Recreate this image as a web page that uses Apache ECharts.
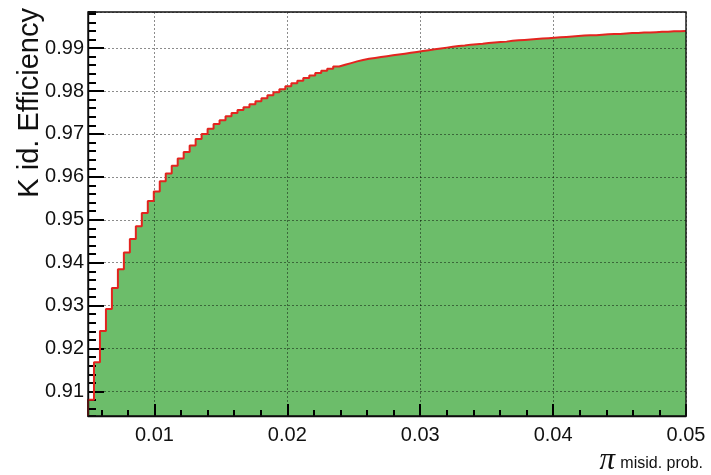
<!DOCTYPE html>
<html><head><meta charset="utf-8">
<script src="https://cdn.jsdelivr.net/npm/echarts@6/dist/echarts.min.js"></script>
<style>html,body{margin:0;padding:0;background:#fff}#c{width:711px;height:475px}</style>
</head><body><div id="c"></div>
<script>
// Histogram binning of the x axis (pion misidentification probability)
const xRange = [0.005, 0.05];
const nBins = 100;
// Kaon identification efficiency, one value per bin
const efficiency = [
  0.9081, 0.9168, 0.9241, 0.9292, 0.9341, 0.9385, 0.9424, 0.9455, 0.9485, 0.9516,
  0.9544, 0.9566, 0.9590, 0.9608, 0.9626, 0.9643, 0.9658, 0.9673, 0.9688, 0.9700,
  0.9712, 0.9723, 0.9732, 0.9741, 0.9749, 0.9756, 0.9762, 0.9769, 0.9776, 0.9783,
  0.9790, 0.9797, 0.9804, 0.9811, 0.9818, 0.9824, 0.9830, 0.9836, 0.9842, 0.9847,
  0.9852, 0.9857, 0.9861, 0.9865, 0.9869, 0.9872, 0.9875, 0.9877, 0.9879, 0.9881,
  0.9883, 0.9885, 0.9887, 0.9889, 0.9891, 0.9893, 0.9895, 0.9897, 0.9899, 0.9901,
  0.9903, 0.9905, 0.9906, 0.9908, 0.9909, 0.9910, 0.9912, 0.9913, 0.9914, 0.9915,
  0.9917, 0.9918, 0.9919, 0.9920, 0.9921, 0.9922, 0.9923, 0.9924, 0.9925, 0.9926,
  0.9927, 0.9928, 0.9929, 0.9930, 0.9930, 0.9931, 0.9932, 0.9933, 0.9933, 0.9934,
  0.9935, 0.9935, 0.9936, 0.9936, 0.9937, 0.9938, 0.9938, 0.9939, 0.9939, 0.9940
];
const yRange = [0.9043, 0.9984];
const xTickLabels = ['0.01', '0.02', '0.03', '0.04', '0.05'];
const yTickLabels = ['0.91', '0.92', '0.93', '0.94', '0.95', '0.96', '0.97', '0.98', '0.99'];
const yTitle = 'K id. Efficiency';
const xTitleSymbol = 'π';
const xTitle = 'misid. prob.';

const binW = (xRange[1] - xRange[0]) / nBins;
const points = [[xRange[0], yRange[0]]]
  .concat(efficiency.map((v, i) => [xRange[0] + i * binW, v]));
points.push([xRange[1], efficiency[efficiency.length - 1]]);

const FONT = 'Liberation Sans, Arial, Helvetica, sans-serif';
const fmt = list => v => { const s = (+v).toFixed(2); return list.includes(s) ? s : ''; };
const gridLine = () => ({ show: true, lineStyle: { color: 'rgba(0,0,0,0.45)', type: [2, 2], width: 1 } });

const chart = echarts.init(document.getElementById('c'), null, { renderer: 'canvas' });
chart.setOption({
  animation: false,
  backgroundColor: '#fff',
  grid: { left: 88, top: 12, width: 598, height: 404, show: true, borderColor: '#111', borderWidth: 1.4, backgroundColor: 'transparent', z: 10 },
  xAxis: [
    { type: 'value', min: xRange[0], max: xRange[1], splitNumber: 5, minInterval: 0.01, maxInterval: 0.01, z: 3,
      axisLine: { show: true, onZero: false, lineStyle: { color: '#000', width: 1.4 } },
      axisTick: { show: true, inside: true, length: 12, lineStyle: { color: '#000', width: 2 } },
      axisLabel: { formatter: fmt(xTickLabels), showMinLabel: false, color: '#111', fontSize: 20, fontFamily: FONT, margin: 9 },
      splitLine: gridLine() },
    { type: 'value', min: xRange[0], max: xRange[1], minInterval: 0.002, maxInterval: 0.002, splitNumber: 20, position: 'bottom', z: 3,
      axisLine: { show: false, onZero: false },
      axisTick: { show: true, inside: true, length: 6, lineStyle: { color: '#000', width: 2 } },
      axisLabel: { show: false }, splitLine: { show: false } }
  ],
  yAxis: [
    { type: 'value', min: yRange[0], max: yRange[1], splitNumber: 9, minInterval: 0.01, maxInterval: 0.01, z: 3,
      axisLine: { show: true, onZero: false, lineStyle: { color: '#000', width: 1.4 } },
      axisTick: { show: true, inside: true, length: 16, lineStyle: { color: '#000', width: 2 } },
      axisLabel: { formatter: fmt(yTickLabels), showMinLabel: false, showMaxLabel: false, color: '#111', fontSize: 20, fontFamily: FONT, margin: 4 },
      splitLine: gridLine() },
    { type: 'value', min: yRange[0], max: yRange[1], minInterval: 0.002, maxInterval: 0.002, splitNumber: 45, position: 'left', z: 3,
      axisLine: { show: false, onZero: false },
      axisTick: { show: true, inside: true, length: 8, lineStyle: { color: '#000', width: 2 } },
      axisLabel: { show: false }, splitLine: { show: false } }
  ],
  graphic: [
    { type: 'text', x: 30, y: 8, rotation: Math.PI / 2, z: 20,
      style: { text: yTitle, font: '29px ' + FONT, fill: '#111', align: 'right', verticalAlign: 'middle' } },
    { type: 'text', x: 615, y: 461, z: 20,
      style: { text: xTitleSymbol, font: 'italic 31px Liberation Serif, DejaVu Serif, serif', fill: '#111', align: 'right', verticalAlign: 'middle' } },
    { type: 'text', x: 703, y: 464, z: 20,
      style: { text: xTitle, font: '16px ' + FONT, fill: '#111', align: 'right', verticalAlign: 'middle' } }
  ],
  series: [
    { type: 'line', step: 'end', data: points, showSymbol: false, z: 1,
      lineStyle: { width: 0 }, areaStyle: { color: '#6cbd6a', opacity: 1, origin: 'start' } },
    { type: 'line', step: 'end', data: points, showSymbol: false, z: 5,
      lineStyle: { color: '#e3241f', width: 2 } }
  ]
});
</script>
</body></html>
